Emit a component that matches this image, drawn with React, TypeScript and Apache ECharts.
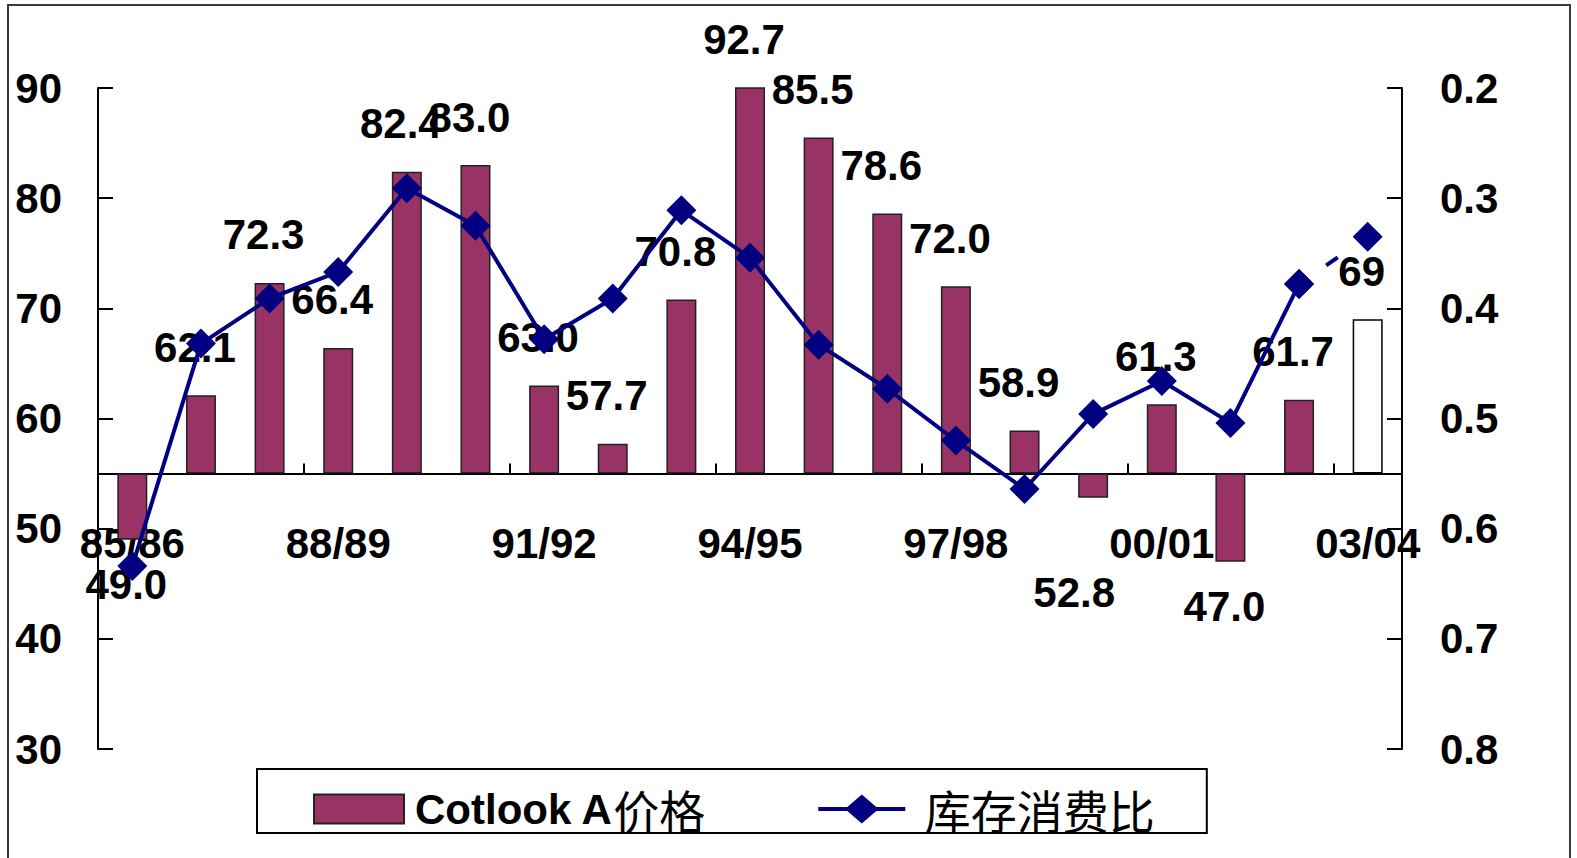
import React, { useEffect, useRef } from "react";
import * as echarts from "echarts";

// Marketing seasons (crop years)
const seasons = [
  "85/86", "86/87", "87/88", "88/89", "89/90", "90/91", "91/92", "92/93", "93/94", "94/95",
  "95/96", "96/97", "97/98", "98/99", "99/00", "00/01", "01/02", "02/03", "03/04",
];

// Cotlook A index, US cents per pound
const cotlookA = [
  49.0, 62.1, 72.3, 66.4, 82.4, 83.0, 63.0, 57.7, 70.8, 92.7,
  85.5, 78.6, 72.0, 58.9, 52.8, 61.3, 47.0, 61.7, 69,
];

// World ending stocks / consumption ratio
const stockToUse = [
  0.634, 0.432, 0.391, 0.367, 0.291, 0.325, 0.428, 0.391, 0.311, 0.354,
  0.433, 0.473, 0.52, 0.564, 0.496, 0.466, 0.504, 0.378, 0.335,
];

// Axis ranges
const priceAxis = { min: 30, max: 90, step: 10 };
const ratioAxis = { min: 0.2, max: 0.8, step: 0.1 };
// Bars grow up or down from this price level
const priceBaseline = 55;

const PRICE_NAME = "Cotlook A价格";
const RATIO_NAME = "库存消费比";
const RATIO_EST_NAME = "库存消费比（预估）";

const FONT = "'Liberation Sans', Arial, 'Noto Sans CJK SC', sans-serif";
const BAR_COLOR = "#993366";
const LINE_COLOR = "#000080";

// Legend marker for the ratio series: a line with a diamond in the middle
const LINE_DIAMOND_ICON =
  "path://M0,13 L30,13 L45,0 L60,13 L90,13 L90,17 L60,17 L45,30 L30,17 L0,17 Z";

const CHART_W = 1577;
const CHART_H = 858;
const GRID = { left: 98, right: 175, top: 88, bottom: 109 };

export default function App() {
  const ref = useRef<HTMLDivElement>(null);

  useEffect(() => {
    if (!ref.current) return;
    const chart = echarts.init(ref.current, undefined, { renderer: "svg" });

    // The last season is an estimate: hollow bar, dashed ratio segment
    const estimateIndex = seasons.length - 1;

    const priceText = cotlookA.map((v, i) => (i === estimateIndex ? String(v) : v.toFixed(1)));

    const barData = cotlookA.map((v, i) => {
      const below = v < priceBaseline;
      const item: any = {
        value: v - priceBaseline,
        label: {
          position: below ? "bottom" : "top",
          distance: i === 14 ? 74 : below ? 24 : 27,
          offset: [i === 14 ? -19 : -6, 0],
        },
      };
      if (i === estimateIndex) {
        item.itemStyle = { color: "#ffffff", borderColor: "#000000" };
      }
      return item;
    });

    const solidRatio = stockToUse.map((v, i) => (i < estimateIndex ? v : null));
    const estRatio = stockToUse.map((v, i) => (i >= estimateIndex - 1 ? v : null));

    // The category axis sits at the baseline price level
    const gridHeight = CHART_H - GRID.top - GRID.bottom;
    const baselineOffset =
      -((priceBaseline - priceAxis.min) / (priceAxis.max - priceAxis.min)) * gridHeight;

    const axisText = { fontSize: 42, fontWeight: "bold" as const, color: "#000", fontFamily: FONT };

    chart.setOption({
      animation: false,
      backgroundColor: "#ffffff",
      textStyle: { fontFamily: FONT },
      grid: { ...GRID, containLabel: false },
      graphic: [
        {
          type: "rect",
          shape: { x: 8, y: 5, width: 1562, height: 900 },
          style: { fill: "none", stroke: "#3a3a3a", lineWidth: 2 },
          silent: true,
          z: 100,
        },
      ],
      legend: {
        left: 257,
        top: 769,
        data: [
          { name: PRICE_NAME, icon: "rect" },
          { name: RATIO_NAME, icon: LINE_DIAMOND_ICON, itemStyle: { color: LINE_COLOR } },
        ],
        itemWidth: 90,
        itemHeight: 29,
        itemGap: 113,
        padding: [17, 52, 1, 56],
        borderColor: "#000",
        borderWidth: 2,
        formatter: (name: string) =>
          (name === RATIO_NAME ? "{gapWide| }" : "{gap| }") +
          name.replace(/[\u4e00-\u9fff]+/g, (m) => `{cjk|${m}}`),
        textStyle: {
          ...axisText,
          rich: {
            gap: { width: 6 },
            gapWide: { width: 13 },
            cjk: { fontFamily: "'Noto Sans CJK SC', sans-serif", fontWeight: "normal", fontSize: 46, color: "#000" },
          },
        },
      },
      xAxis: {
        type: "category",
        data: seasons,
        position: "bottom",
        offset: baselineOffset,
        boundaryGap: true,
        axisLine: { onZero: false, lineStyle: { color: "#000", width: 2 } },
        axisTick: { show: true, inside: true, length: 10, interval: 2, lineStyle: { color: "#000", width: 2 } },
        axisLabel: { ...axisText, interval: 2, margin: 49 },
        splitLine: { show: false },
      },
      yAxis: [
        {
          type: "value",
          position: "left",
          min: priceAxis.min,
          max: priceAxis.max,
          interval: priceAxis.step,
          axisLine: { show: true, lineStyle: { color: "#000", width: 2 } },
          axisTick: { show: true, inside: true, length: 15, lineStyle: { color: "#000", width: 2 } },
          axisLabel: { ...axisText, margin: 36 },
          splitLine: { show: false },
        },
        {
          type: "value",
          position: "right",
          inverse: true,
          min: ratioAxis.min,
          max: ratioAxis.max,
          interval: ratioAxis.step,
          axisLine: { show: true, lineStyle: { color: "#000", width: 2 } },
          axisTick: { show: true, inside: true, length: 15, lineStyle: { color: "#000", width: 2 } },
          axisLabel: { ...axisText, margin: 38, formatter: (v: number) => v.toFixed(1) },
          splitLine: { show: false },
        },
        {
          // Price measured from the baseline, same scale as the left axis
          type: "value",
          show: false,
          min: priceAxis.min - priceBaseline,
          max: priceAxis.max - priceBaseline,
          splitLine: { show: false },
        },
      ],
      series: [
        {
          name: PRICE_NAME,
          type: "bar",
          yAxisIndex: 2,
          barWidth: 30,
          clip: true,
          z: 2,
          itemStyle: { color: BAR_COLOR, borderColor: "#222", borderWidth: 1.5 },
          label: {
            show: true,
            ...axisText,
            formatter: (p: any) => priceText[p.dataIndex],
          },
          data: barData,
        },
        {
          name: RATIO_EST_NAME,
          type: "line",
          yAxisIndex: 1,
          z: 3,
          symbol: "diamond",
          symbolSize: 30,
          showSymbol: true,
          lineStyle: { color: LINE_COLOR, width: 4, type: [14, 100], dashOffset: 81 },
          itemStyle: { color: LINE_COLOR },
          data: estRatio,
        },
        {
          name: RATIO_NAME,
          type: "line",
          yAxisIndex: 1,
          z: 4,
          symbol: "diamond",
          symbolSize: 30,
          lineStyle: { color: LINE_COLOR, width: 4 },
          itemStyle: { color: LINE_COLOR },
          data: solidRatio,
        },
      ],
    });

    return () => chart.dispose();
  }, []);

  return (
    <div
      ref={ref}
      style={{ position: "absolute", left: 0, top: 0, width: CHART_W, height: CHART_H, background: "#fff" }}
    />
  );
}
